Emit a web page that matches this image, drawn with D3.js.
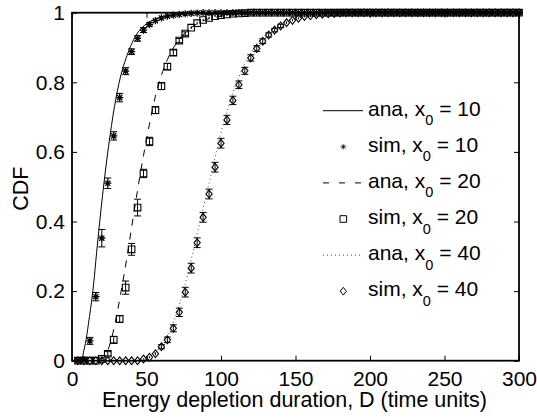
<!DOCTYPE html>
<html>
<head>
<meta charset="utf-8">
<script src="https://d3js.org/d3.v7.min.js"></script>
<style>
  html, body { margin: 0; padding: 0; background: #fff; }
  svg { display: block; }
  text { font-family: "Liberation Sans", Arial, Helvetica, sans-serif; fill: #000; }
</style>
</head>
<body>
<svg id="chart" width="537" height="418"></svg>
<script>
// ---------- data ----------
const xTicks = [0, 50, 100, 150, 200, 250, 300];
const yTicks = [0, 0.2, 0.4, 0.6, 0.8, 1];
const yTickLabels = ["0", "0.2", "0.4", "0.6", "0.8", "1"];

// analytical curves
const anaX10 = [0, 6, 7, 8, 9, 10, 11, 12.5, 14.5, 16.5, 20.5, 24.5, 28.5, 32.5, 36.5, 40.5, 44.5, 50, 56, 64, 72, 80, 90, 100, 120, 300];
const anaY10 = [0, 0, 0.01, 0.03, 0.05, 0.075, 0.105, 0.15, 0.22, 0.31, 0.475, 0.615, 0.73, 0.815, 0.872, 0.915, 0.945, 0.968, 0.982, 0.991, 0.995, 0.997, 0.999, 1, 1, 1];
const anaX20 = [0, 18, 20, 23, 26, 29.5, 33, 37, 41, 44, 48, 52, 56, 60, 64, 70, 76, 82, 90, 100, 120, 150, 300];
const anaY20 = [0, 0, 0.005, 0.02, 0.055, 0.12, 0.2, 0.3, 0.41, 0.49, 0.59, 0.68, 0.76, 0.82, 0.865, 0.912, 0.943, 0.963, 0.98, 0.99, 0.997, 1, 1];
const anaX40 = [0, 44, 48, 52, 56, 60, 64, 68, 72, 76, 80, 84, 88, 92, 96, 100, 104, 108, 112, 116, 120, 124, 128, 136, 144, 152, 160, 170, 185, 200, 300];
const anaY40 = [0, 0, 0.004, 0.012, 0.025, 0.045, 0.073, 0.11, 0.16, 0.22, 0.29, 0.365, 0.44, 0.51, 0.585, 0.655, 0.715, 0.77, 0.815, 0.855, 0.885, 0.91, 0.93, 0.957, 0.974, 0.985, 0.991, 0.995, 0.998, 1, 1];

// simulation points
const simX = [4, 8, 12, 16, 20, 24, 28, 32, 36, 40, 44, 48, 52, 56, 60, 64, 68, 72, 76, 80,
  84, 88, 92, 96, 100, 104, 108, 112, 116, 120, 124, 128, 132, 136, 140, 144, 148, 152, 156, 160,
  164, 168, 172, 176, 180, 184, 188, 192, 196, 200, 204, 208, 212, 216, 220, 224, 228, 232, 236, 240,
  244, 248, 252, 256, 260, 264, 268, 272, 276, 280, 284, 288, 292, 296, 300];
const sim10 = [0, 0.003, 0.057, 0.184, 0.352, 0.51, 0.646, 0.756, 0.832, 0.888, 0.926, 0.95, 0.966, 0.977, 0.985, 0.99, 0.993, 0.995, 0.997, 0.998,
  0.999, 1, 1, 1, 1, 1, 1, 1, 1, 1, 1, 1, 1, 1, 1, 1, 1, 1, 1, 1,
  1, 1, 1, 1, 1, 1, 1, 1, 1, 1, 1, 1, 1, 1, 1, 1, 1, 1, 1, 1,
  1, 1, 1, 1, 1, 1, 1, 1, 1, 1, 1, 1, 1, 1, 1];
const err10 = [0, 0.003, 0.01, 0.012, 0.025, 0.015, 0.012, 0.012, 0.01, 0.008, 0.008, 0.007, 0.005, 0.004, 0.003, 0.003, 0.002, 0.002, 0.002, 0.001,
  0.001, 0, 0, 0, 0, 0, 0, 0, 0, 0, 0, 0, 0, 0, 0, 0, 0, 0, 0, 0,
  0, 0, 0, 0, 0, 0, 0, 0, 0, 0, 0, 0, 0, 0, 0, 0, 0, 0, 0, 0,
  0, 0, 0, 0, 0, 0, 0, 0, 0, 0, 0, 0, 0, 0, 0];
const sim20 = [0, 0, 0, 0, 0.005, 0.02, 0.06, 0.12, 0.21, 0.32, 0.44, 0.538, 0.63, 0.72, 0.789, 0.845, 0.885, 0.92, 0.94, 0.957,
  0.97, 0.979, 0.985, 0.99, 0.993, 0.995, 0.997, 0.998, 0.999, 1, 1, 1, 1, 1, 1, 1, 1, 1, 1, 1,
  1, 1, 1, 1, 1, 1, 1, 1, 1, 1, 1, 1, 1, 1, 1, 1, 1, 1, 1, 1,
  1, 1, 1, 1, 1, 1, 1, 1, 1, 1, 1, 1, 1, 1, 1];
const err20 = [0, 0, 0, 0, 0.003, 0.006, 0.01, 0.01, 0.019, 0.017, 0.024, 0.012, 0.012, 0.01, 0.01, 0.009, 0.008, 0.006, 0.005, 0.004,
  0.004, 0.003, 0.003, 0.002, 0.002, 0.002, 0.001, 0.001, 0.001, 0, 0, 0, 0, 0, 0, 0, 0, 0, 0, 0,
  0, 0, 0, 0, 0, 0, 0, 0, 0, 0, 0, 0, 0, 0, 0, 0, 0, 0, 0, 0,
  0, 0, 0, 0, 0, 0, 0, 0, 0, 0, 0, 0, 0, 0, 0];
const sim40 = [0, 0, 0, 0, 0, 0, 0, 0, 0, 0, 0, 0.005, 0.01, 0.02, 0.04, 0.06, 0.093, 0.139, 0.197, 0.266,
  0.339, 0.412, 0.479, 0.556, 0.625, 0.692, 0.748, 0.793, 0.833, 0.87, 0.897, 0.918, 0.936, 0.95, 0.962, 0.971, 0.978, 0.984, 0.989, 0.991,
  0.994, 0.996, 0.997, 0.998, 0.999, 1, 1, 1, 1, 1, 1, 1, 1, 1, 1, 1, 1, 1, 1, 1,
  1, 1, 1, 1, 1, 1, 1, 1, 1, 1, 1, 1, 1, 1, 1];
const err40 = [0, 0, 0, 0, 0, 0, 0, 0, 0, 0, 0, 0.002, 0.003, 0.004, 0.006, 0.008, 0.01, 0.012, 0.014, 0.014,
  0.014, 0.014, 0.014, 0.014, 0.014, 0.013, 0.012, 0.011, 0.01, 0.009, 0.008, 0.007, 0.006, 0.005, 0.005, 0.004, 0.003, 0.003, 0.002, 0.002,
  0.002, 0.001, 0.001, 0.001, 0.001, 0, 0, 0, 0, 0, 0, 0, 0, 0, 0, 0, 0, 0, 0, 0,
  0, 0, 0, 0, 0, 0, 0, 0, 0, 0, 0, 0, 0, 0, 0];

const legendLabels = [
  {kind: "ana", x0: "10"}, {kind: "sim", x0: "10"},
  {kind: "ana", x0: "20"}, {kind: "sim", x0: "20"},
  {kind: "ana", x0: "40"}, {kind: "sim", x0: "40"}
];

// ---------- layout ----------
const L = 72, R = 519, T = 12.7, B = 360.7;
const svg = d3.select("#chart");
const x = d3.scaleLinear().domain([0, 300]).range([L, R]);
const y = d3.scaleLinear().domain([0, 1]).range([B, T]);

const styles = {
  "10": {dash: null, color: "#000", width: 1},
  "20": {dash: "7,7", color: "#000", width: 1},
  "40": {dash: "1,3", color: "#444", width: 1}
};
const markers = {"10": "star", "20": "square", "40": "diamond"};

function markerPath(type, cx, cy) {
  const p = d3.path();
  if (type === "star") {
    const r = 3.6, d = 2.6;
    p.moveTo(cx - r, cy); p.lineTo(cx + r, cy);
    p.moveTo(cx, cy - r); p.lineTo(cx, cy + r);
    p.moveTo(cx - d, cy - d); p.lineTo(cx + d, cy + d);
    p.moveTo(cx - d, cy + d); p.lineTo(cx + d, cy - d);
  } else if (type === "square") {
    const h = 3.3;
    p.rect(cx - h, cy - h, 2 * h, 2 * h);
  } else {
    const w = 3.1, h = 3.9;
    p.moveTo(cx, cy - h); p.lineTo(cx + w, cy); p.lineTo(cx, cy + h); p.lineTo(cx - w, cy); p.closePath();
  }
  return p.toString();
}

// ---------- axes ----------
const gx = svg.append("g").attr("transform", `translate(0,${B})`)
  .call(d3.axisBottom(x).tickValues(xTicks).tickSizeInner(-5).tickSizeOuter(0).tickPadding(10));
const gxTop = svg.append("g").attr("transform", `translate(0,${T})`)
  .call(d3.axisTop(x).tickValues(xTicks).tickSizeInner(-5).tickSizeOuter(0).tickFormat(""));
const gy = svg.append("g").attr("transform", `translate(${L},0)`)
  .call(d3.axisLeft(y).tickValues(yTicks).tickSizeInner(-5).tickSizeOuter(0).tickPadding(7)
    .tickFormat((d, i) => yTickLabels[i]));
const gyR = svg.append("g").attr("transform", `translate(${R},0)`)
  .call(d3.axisRight(y).tickValues(yTicks).tickSizeInner(-5).tickSizeOuter(0).tickFormat(""));
[gx, gxTop, gy, gyR].forEach(g => {
  g.select(".domain").remove();
  g.selectAll(".tick line").attr("stroke", "#000").attr("stroke-width", 1);
  g.selectAll("text").attr("font-size", 21).attr("fill", "#000")
    .style("font-family", '"Liberation Sans", Arial, sans-serif');
});

// ---------- lines ----------
const lineGen = d3.line().x(d => x(d[0])).y(d => y(d[1])).curve(d3.curveMonotoneX);
const anaSeries = [
  {key: "10", xs: anaX10, ys: anaY10},
  {key: "20", xs: anaX20, ys: anaY20},
  {key: "40", xs: anaX40, ys: anaY40}
];
anaSeries.forEach(s => {
  const st = styles[s.key];
  svg.append("path")
    .datum(s.xs.map((v, i) => [v, s.ys[i]]))
    .attr("d", lineGen)
    .attr("fill", "none")
    .attr("stroke", st.color)
    .attr("stroke-width", st.width)
    .attr("stroke-dasharray", st.dash);
});

// ---------- simulation points with error bars ----------
const simSeries = [
  {key: "10", ys: sim10, es: err10},
  {key: "20", ys: sim20, es: err20},
  {key: "40", ys: sim40, es: err40}
];
simSeries.forEach(s => {
  const g = svg.append("g").attr("fill", "none").attr("stroke", "#000")
    .attr("stroke-width", s.key === "10" ? 1.25 : 1.1);
  const data = simX.map((v, i) => ({x: v, y: s.ys[i], e: s.es[i]}));
  const eb = g.selectAll("g.eb").data(data).join("g").attr("class", "eb").attr("stroke-width", 1);
  eb.append("line")
    .attr("x1", d => x(d.x)).attr("x2", d => x(d.x))
    .attr("y1", d => y(d.y - d.e)).attr("y2", d => y(d.y + d.e));
  eb.filter(d => d.e > 0.004).append("line")
    .attr("x1", d => x(d.x) - 3.5).attr("x2", d => x(d.x) + 3.5)
    .attr("y1", d => y(d.y - d.e)).attr("y2", d => y(d.y - d.e));
  eb.filter(d => d.e > 0.004).append("line")
    .attr("x1", d => x(d.x) - 3.5).attr("x2", d => x(d.x) + 3.5)
    .attr("y1", d => y(d.y + d.e)).attr("y2", d => y(d.y + d.e));
  g.selectAll("path.mk").data(data).join("path").attr("class", "mk")
    .attr("d", d => markerPath(markers[s.key], x(d.x), y(d.y)));
});

// ---------- frame ----------
svg.append("rect")
  .attr("x", L).attr("y", T).attr("width", R - L).attr("height", B - T)
  .attr("fill", "none").attr("stroke", "#000").attr("stroke-width", 1.8);

// ---------- axis labels ----------
svg.append("text")
  .attr("x", (L + R) / 2 - 1).attr("y", 406.5)
  .attr("text-anchor", "middle").attr("font-size", 21.5)
  .text("Energy depletion duration, D (time units)");
svg.append("text")
  .attr("transform", `translate(27.5,${(T + B) / 2 + 2}) rotate(-90)`)
  .attr("text-anchor", "middle").attr("font-size", 21.5)
  .text("CDF");

// ---------- legend ----------
const legY0 = 110.7, legStep = 36.1;
const leg = svg.append("g");
legendLabels.forEach((d, i) => {
  const cy = legY0 + i * legStep;
  if (d.kind === "ana") {
    const st = styles[d.x0];
    leg.append("line")
      .attr("x1", 323).attr("x2", 363).attr("y1", cy).attr("y2", cy)
      .attr("stroke", st.color).attr("stroke-width", st.width)
      .attr("stroke-dasharray", d.x0 === "20" ? "6,10" : st.dash);
  } else {
    leg.append("path")
      .attr("d", markerPath(markers[d.x0], 343.3, cy))
      .attr("fill", "none").attr("stroke", "#000").attr("stroke-width", 1)
      .attr("transform", d.x0 === "10" ? `translate(343.3,${cy}) scale(0.75) translate(-343.3,${-cy})` : null);
  }
  const t = leg.append("text").attr("x", 368).attr("y", cy + 5).attr("font-size", 21);
  t.append("tspan").text(d.kind + ", x");
  t.append("tspan").attr("dy", 9.5).attr("font-size", 14.5).text("0");
  t.append("tspan").attr("dy", -9.5).attr("font-size", 21).text(" = " + d.x0);
});
</script>
</body>
</html>
